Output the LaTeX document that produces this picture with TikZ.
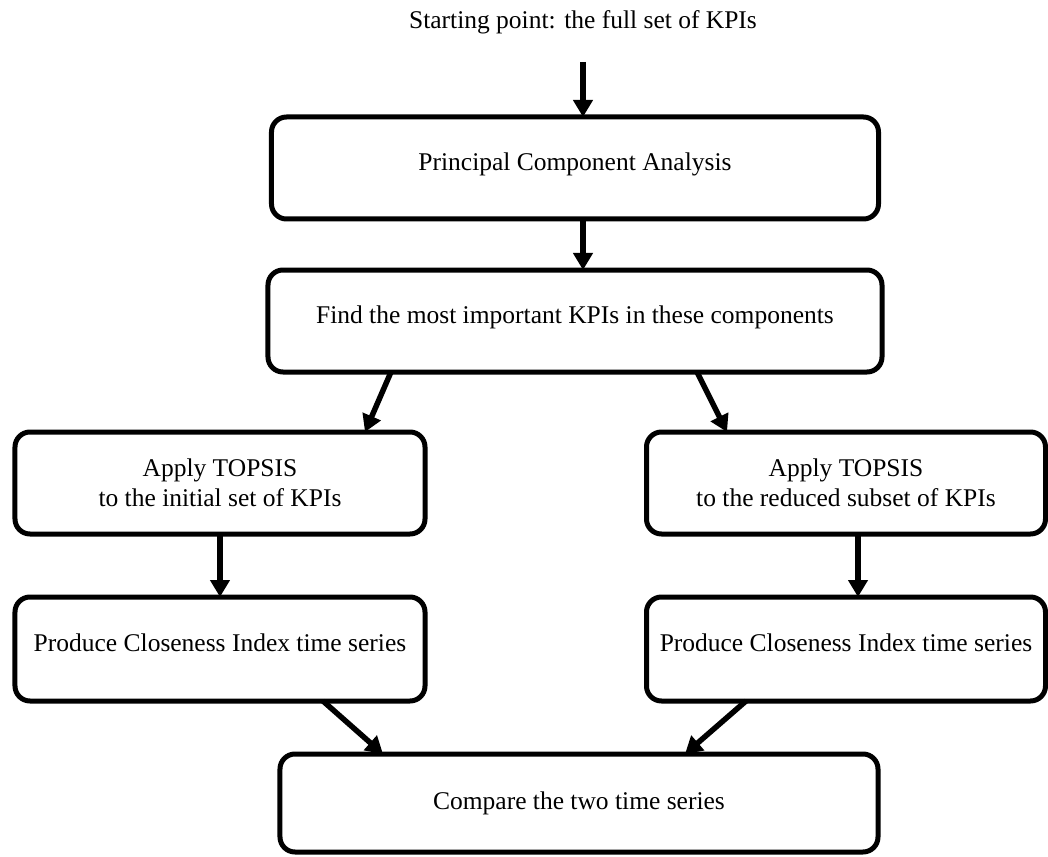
\documentclass[tikz,border=0pt]{standalone}
\usepackage{fontspec}
\setmainfont{Liberation Serif}
\usetikzlibrary{positioning, arrows.meta}
\tikzset{
	stepbox/.style = {draw, rounded corners=15pt, line width=5pt, outer sep=0pt,
	 align=center, font=\fontsize{25.5}{30}\selectfont},
	raised/.style = {text depth=12pt},
	arr/.style = {line width=5.5pt, -{Triangle[length=17pt, width=19pt]}}
	}

\begin{document}
\begin{tikzpicture}[node distance=60pt]
\useasboundingbox (-575pt,168pt) rectangle (473pt,-688pt);

% NODES
% start, pca, kpis
\node (pca) [stepbox, raised, minimum width=607pt, minimum height=102pt] {Principal Component Analysis};
\node (title) [above=95pt of pca.north, anchor=center, xshift=8pt, font=\fontsize{25.5}{30}\selectfont] {Starting point: the full set of KPIs};
\node (find) [stepbox, raised, below=51pt of pca, minimum width=614pt, minimum height=102pt] {Find the most important KPIs in these components};
% topsis
\node (topl) [stepbox, below=of find, xshift=-355pt, minimum width=410pt, minimum height=102pt] {Apply TOPSIS\\to the initial set of KPIs};
\node (topr) [stepbox, below=of find, xshift=271pt, minimum width=399pt, minimum height=102pt] {Apply TOPSIS\\to the reduced subset of KPIs};
% closeness index
\node (prodl) [stepbox, raised, below=63pt of topl, minimum width=410pt, minimum height=104pt] {Produce Closeness Index time series};
\node (prodr) [stepbox, raised, below=63pt of topr, minimum width=399pt, minimum height=104pt] {Produce Closeness Index time series};
% compare
\node (comp) [stepbox, below=53pt of prodl, xshift=359pt, minimum width=598pt, minimum height=98pt] {Compare the two time series};

%CONNECTIONS
\draw [arr] ([yshift=-40pt]title.center) -- (title.center |- pca.north);
\draw [arr] ([xshift=8pt]pca.south) -- ([xshift=8pt]find.north);
\draw [arr] ([xshift=-184pt]find.south) -- ([xshift=145pt]topl.north);
\draw [arr] ([xshift=122pt]find.south) -- ([xshift=-119pt]topr.north);
\draw [arr] (topl) -- (prodl);
\draw [arr] ([xshift=12pt]topr.south) -- ([xshift=12pt]prodr.north);
\draw [arr] ([xshift=103pt]prodl.south) -- ([xshift=-196pt]comp.north);
\draw [arr] ([xshift=-100pt]prodr.south) -- ([xshift=106pt]comp.north);

\end{tikzpicture}
\end{document}
